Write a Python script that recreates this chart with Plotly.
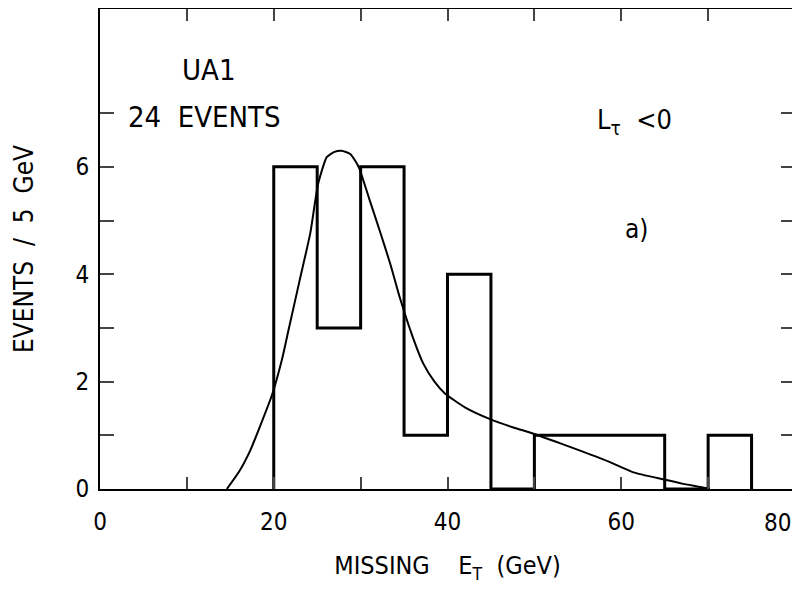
import plotly.graph_objects as go

# Histogram: missing ET, 5 GeV bins
bin_edges = [20, 25, 30, 35, 40, 45, 50, 55, 60, 65, 70, 75]
counts = [6, 3, 6, 1, 4, 0, 1, 1, 1, 0, 1]

# Expected-shape curve
curve_x = [14.6, 16.0, 17.3, 18.5, 19.8, 21.0, 21.7, 23.0, 24.2, 25.1, 26.1, 27.0, 27.8,
           28.8, 29.5, 29.9, 31.0, 32.2, 33.4, 34.5, 36.0, 37.2, 38.5, 39.7, 42.0, 44.9,
           47.5, 49.9, 53.0, 55.5, 58.7, 61.4, 64.8, 67.0, 69.4, 70.2]
curve_y = [0.0, 0.32, 0.72, 1.2, 1.75, 2.45, 2.96, 3.9, 4.76, 5.68, 6.18, 6.28, 6.30,
           6.24, 6.08, 5.95, 5.4, 4.81, 4.2, 3.57, 2.83, 2.34, 2.0, 1.78, 1.52, 1.30,
           1.15, 1.03, 0.85, 0.70, 0.50, 0.31, 0.18, 0.1, 0.03, 0.0]

x_ticks = [0, 10, 20, 30, 40, 50, 60, 70, 80]
x_ticktext = ["0", "", "20", "", "40", "", "60", "", ""]
y_ticks = [0, 1, 2, 3, 4, 5, 6, 7]
y_ticktext = ["0", "", "2", "", "4", "", "6", ""]

# step outline from edges/counts
step_x = [bin_edges[0]] + bin_edges
step_y = [0] + counts + [0]

FONT = "DejaVu Sans Condensed, Liberation Sans Narrow, DejaVu Sans, sans-serif"

fig = go.Figure()
fig.add_trace(go.Scatter(x=step_x, y=step_y, mode="lines", line=dict(shape="hv", color="black", width=3),
                         hoverinfo="skip", showlegend=False))
fig.add_trace(go.Scatter(x=curve_x, y=curve_y, mode="lines",
                         line=dict(shape="spline", smoothing=0.5, color="black", width=2),
                         showlegend=False))

fig.update_layout(
    width=792, height=582,
    margin=dict(l=92, r=5, t=1, b=101),
    paper_bgcolor="white", plot_bgcolor="white",
    font=dict(family=FONT, color="black", size=24),
    xaxis=dict(range=[0, 80], tickvals=x_ticks, ticktext=x_ticktext, ticks="inside", ticklen=12,
               tickwidth=2, showline=True, linewidth=2, linecolor="black", mirror="ticks",
               showgrid=False, zeroline=False, ticklabelstandoff=10, automargin=False,
               tickfont=dict(size=24),
               title=dict(text="MISSING    E<sub>T</sub>  (GeV)", font=dict(size=25), standoff=22)),
    yaxis=dict(range=[0, 8.94], tickvals=y_ticks, ticktext=y_ticktext, ticks="inside", ticklen=14,
               tickwidth=2, showline=True, linewidth=2, linecolor="black", mirror="ticks",
               showgrid=False, zeroline=False, ticklabelstandoff=4, automargin=False,
               tickfont=dict(size=24),
               title=dict(text="EVENTS  /  5  GeV", font=dict(size=26), standoff=34)),
)

# last x tick label placed just inside the frame edge as in the original
fig.add_annotation(x=80, y=0, yref="y", text="80", showarrow=False, xanchor="right", yanchor="top",
                   yshift=-18, xshift=-2, font=dict(size=24))
fig.add_annotation(x=9.2, y=7.8, text="UA1", showarrow=False, xanchor="left", yanchor="middle",
                   font=dict(size=29))
fig.add_annotation(x=3.0, y=6.92, text="24  EVENTS", showarrow=False, xanchor="left", yanchor="middle",
                   font=dict(size=29))
fig.add_annotation(x=57.0, y=6.85, text="L<sub>τ</sub>  <0", showarrow=False, xanchor="left", yanchor="middle",
                   font=dict(size=27))
fig.add_annotation(x=60.2, y=4.85, text="a)", showarrow=False, xanchor="left", yanchor="middle",
                   font=dict(size=26))

fig.write_html("out.html")
